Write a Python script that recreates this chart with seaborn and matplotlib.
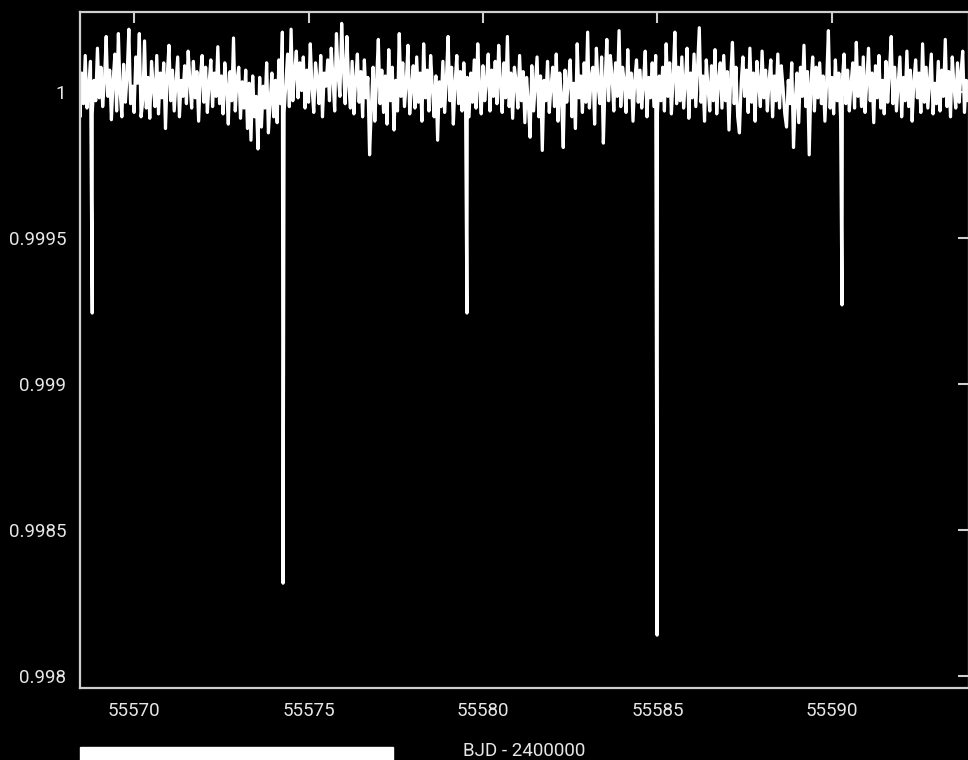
import numpy as np
import pandas as pd
import seaborn as sns
import matplotlib
matplotlib.use("Agg")
import matplotlib.pyplot as plt
from matplotlib.ticker import MultipleLocator, FuncFormatter
from matplotlib.patches import Rectangle

# Out-of-eclipse photometry: start time, cadence (days) and flux offsets in ppm
t_start = 55568.40
cadence = 0.05
flux_ppm = [
    30, -85, 65, -40, 125, -55, 15, 105, -75, 40, -30, 150, -20, 85, -50, 35,
    190, -15, 75, -95, 40, 130, -65, 200, 0, -85, 95, -35, 55, 215, -40, 20,
    -70, 120, 30, 200, -85, -30, 175, -55, 50, -90, 105, 15, -50, 125, -75, 65,
    -20, 100, -125, 55, 160, -30, 75, -65, 30, 120, -85, 40, -15, 90, -40, 140,
    35, -55, 105, -20, 70, -100, 50, 125, -35, 85, -70, 30, 110, -50, 65, -15,
    155, -40, 55, -75, 100, 20, -110, 70, -30, 185, -65, 40, 85, -90, 35, -55,
    75, -125, 30, -165, 55, -85, -15, -195, 50, -120, 20, -55, 100, -140, -30, 65,
    -85, 40, -105, 110, -40, 205, -70, 30, 130, -50, 215, -30, 65, 140, -20, 100,
    5, 120, -55, 75, -35, 165, 15, -70, 100, 40, -40, 125, -85, 65, 20, 110,
    -30, 150, 50, -65, 200, 55, -15, 235, 85, -40, 190, 30, -55, 105, -75, 40,
    130, -35, 70, -85, 110, -20, 50, -215, -55, 85, -100, 35, 180, -40, 75, -70,
    55, -110, 145, -30, 85, -130, 40, -65, 200, -15, 100, -50, 30, 160, -75, 15,
    90, -55, 120, -35, 65, -100, 165, -20, 75, -65, 125, 15, -85, 55, -165, 35,
    -50, 105, -70, 40, 190, -30, 85, -110, 30, 125, -40, 70, -65, 100, -20, 50,
    -85, 65, -35, 110, -55, 165, 15, -75, 90, -30, 40, 130, -65, 75, -15, 105,
    -40, 160, 30, -70, 100, -20, 190, -50, 65, -90, 85, 35, -55, 125, -30, 70,
    -105, 50, -40, -155, 90, -65, 30, 120, -85, 55, -200, 40, -30, 105, -70, 20,
    85, -50, 130, -100, 65, -15, -190, 75, -35, 40, 110, -85, 30, -125, 165, -20,
    55, -70, 100, -35, 205, -55, 50, 85, -110, 150, 20, -40, 120, -175, 35, 180,
    -30, 125, 55, -65, 100, -15, 210, -50, 85, 35, -70, 145, -20, 65, -100, 40,
    110, -35, 75, -55, 30, 140, -85, 50, -20, 100, -50, 125, -70, 55, -30, 85,
    -65, 165, -15, 100, -75, 50, 205, -40, 85, -30, 120, -55, 35, 150, -90, 65,
    -20, 130, -50, 85, 220, -35, 55, -100, 110, 15, -65, 90, -30, 145, -75, 40,
    100, -55, 125, -30, 70, -130, 50, 170, -40, 85, -85, -140, 30, 120, -15, 75,
    -70, 150, -35, 65, -100, 105, 30, -50, 140, -20, 75, -65, 40, 110, -85, 55,
    -30, 130, -55, 90, 15, -75, -120, 40, -40, 100, -190, -30, 65, -105, 85, -15,
    160, -50, 70, -215, 30, 120, -65, 85, -20, 100, -40, 55, -100, 35, 210, -55,
    50, -75, 110, -30, 65, -90, 40, 130, -40, 75, -65, 30, 100, -55, 170, -15,
    85, -50, 120, -70, 35, 150, -30, 65, -105, 90, -20, 125, -55, 40, -75, 105,
    -35, 70, 190, -40, 85, -65, 30, 120, -85, 50, -30, 140, -50, 75, -100, 35,
    110, -20, 65, -70, 165, -35, 85, -55, 40, 130, -75, 30, -40, 105, -65, 75,
    -15, 180, -50, 70, -85, 120, 20, -55, 100, -35, 65, 140, -70, 40, -30, 85,
]

# Mid-eclipse samples (primary and secondary eclipses)
eclipse_time = [55568.80, 55574.27, 55579.54, 55584.99, 55590.29]
eclipse_flux = [0.999243, 0.998318, 0.999243, 0.998140, 0.999271]

x_ticks = [55570, 55575, 55580, 55585, 55590]
x_label = "BJD - 2400000"

base_time = t_start + cadence * np.arange(len(flux_ppm))
base_flux = 1.0 + np.asarray(flux_ppm) * 1e-6
df = pd.DataFrame({
    "time": np.concatenate([base_time, eclipse_time]),
    "flux": np.concatenate([base_flux, eclipse_flux]),
}).sort_values("time")

sns.set_style("dark", {
    "axes.facecolor": "black",
    "figure.facecolor": "black",
    "axes.edgecolor": "#cfcfcf",
    "axes.grid": False,
})
plt.rcParams["font.family"] = ["Roboto", "DejaVu Sans"]

fig = plt.figure(figsize=(9.68, 7.60), dpi=100)
ax = fig.add_axes([80 / 968, 1 - 688 / 760, 889 / 968, 676 / 760])

sns.lineplot(data=df, x="time", y="flux", ax=ax, color="white",
             linewidth=2.3, estimator=None, sort=True)

ax.set_xlim(55568.45, 55593.93)
ax.set_ylim(0.997959, 1.000274)
ax.set_xticks(x_ticks)
ax.yaxis.set_major_locator(MultipleLocator(0.0005))
ax.yaxis.set_major_formatter(FuncFormatter(lambda v, p: f"{v:g}"))
ax.xaxis.set_major_formatter(FuncFormatter(lambda v, p: f"{v:g}"))

for s in ax.spines.values():
    s.set_color("#cfcfcf")
    s.set_linewidth(1.6)
ax.tick_params(direction="in", top=True, right=True, length=8, width=1.5,
               color="#cfcfcf", labelcolor="#e6e6e6", labelsize=13.5, pad=10)

ax.set_xlabel(x_label, color="#e6e6e6", fontsize=13.5)
ax.set_ylabel("")
ax.xaxis.set_label_coords(0.4994, -0.0925)
ax.xaxis.label.set_va("center")

fig.add_artist(Rectangle((80 / 968, 0), 313 / 968, 13 / 760,
                         transform=fig.transFigure, color="white", zorder=5))

fig.savefig("out.png", dpi=100, facecolor="black")
